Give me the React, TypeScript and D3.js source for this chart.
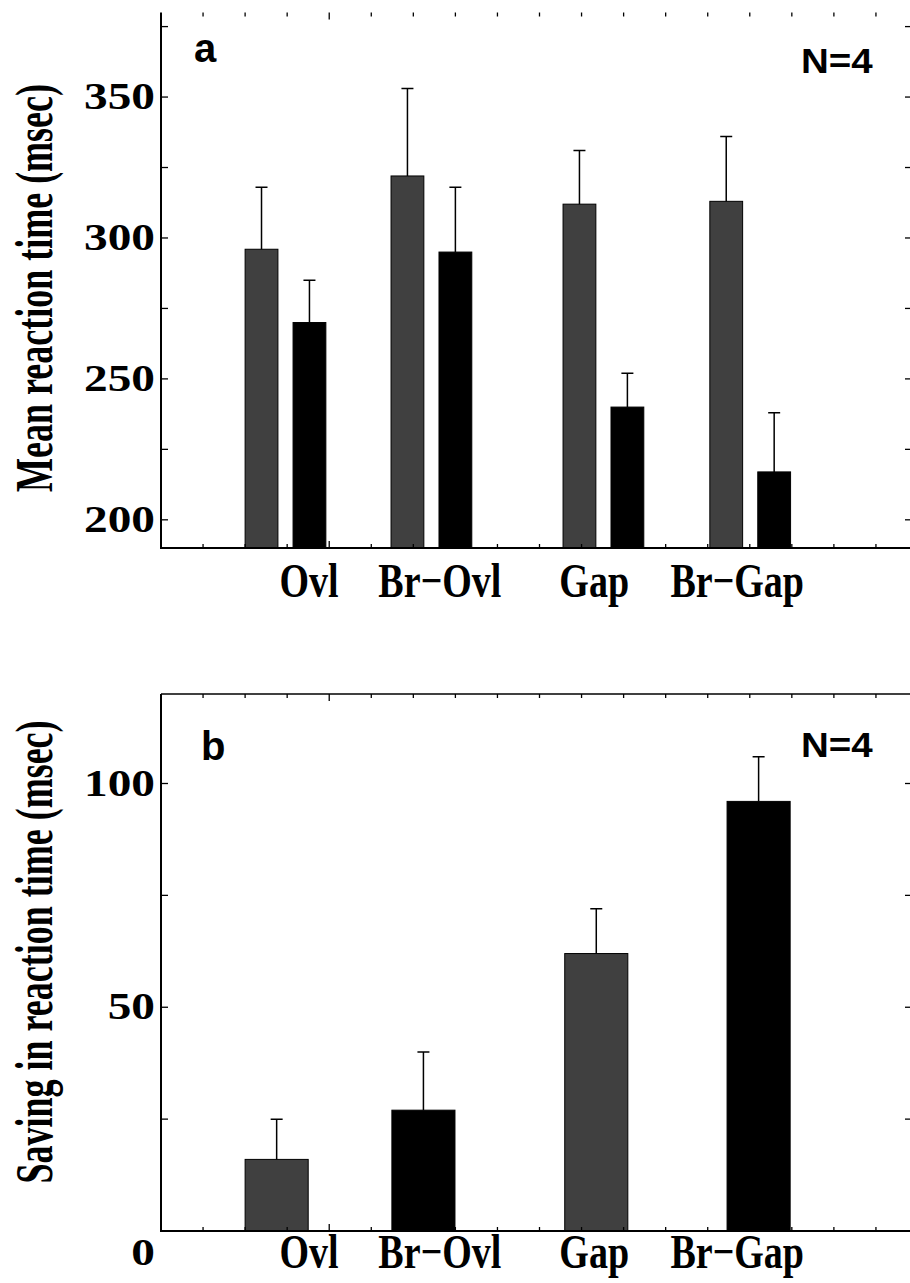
import React, { useEffect, useRef } from 'react';
import * as d3 from 'd3';

// conditions along the x axis
const categories = ['Ovl', 'Br\u2212Ovl', 'Gap', 'Br\u2212Gap'];

// panel a: mean reaction time (msec), grey = first bar, black = second bar
const rtGrey = [296, 322, 312, 313];
const rtGreyErr = [22, 31, 19, 23];
const rtBlack = [270, 295, 240, 217];
const rtBlackErr = [15, 23, 12, 21];

// panel b: saving in reaction time (msec)
const saving = [16, 27, 62, 96];
const savingErr = [9, 13, 10, 10];

// bar start positions in the original x units (axis runs 0..18)
const aGreyX = [2.0, 5.47, 9.56, 13.05];
const aBlackX = [3.14, 6.61, 10.7, 14.19];
const bBarX = [2.0, 5.49, 9.6, 13.46];
const labelX = [3.52, 6.63, 10.3, 13.7];

const rtTicks = [200, 250, 300, 350];
const savingTicks = [0, 50, 100];

const GREY = '#404040';
const BLACK = '#000000';

const W = 910, H = 1283;
const x = d3.scaleLinear().domain([0, 18]).range([161, 918]);
const xRight = 913;

function drawFrame(g: any, y: any, labels: number[], minor: number[], topLine: boolean) {
    const [y0, y1] = y.range();
    const x0 = x(0);

    // left + bottom axis lines
    g.append('line').attr('x1', x0).attr('x2', x0).attr('y1', y1).attr('y2', y0 + 1)
        .attr('stroke', '#000').attr('stroke-width', 2);
    g.append('line').attr('x1', x0 - 1).attr('x2', W).attr('y1', y0).attr('y2', y0)
        .attr('stroke', '#000').attr('stroke-width', 2.2);
    if (topLine) {
        g.append('line').attr('x1', x0).attr('x2', W).attr('y1', y1).attr('y2', y1)
            .attr('stroke', '#000').attr('stroke-width', 1.5);
    }

    // x ticks, top and bottom, pointing inwards
    const xt = d3.range(1, 18);
    g.selectAll('.xtb').data(xt).enter().append('line')
        .attr('x1', (d: number) => x(d)).attr('x2', (d: number) => x(d))
        .attr('y1', y0).attr('y2', (d: number) => y0 - (d === 4 ? 7 : 4))
        .attr('stroke', '#000').attr('stroke-width', 1.3);
    g.selectAll('.xtt').data(xt).enter().append('line')
        .attr('x1', (d: number) => x(d)).attr('x2', (d: number) => x(d))
        .attr('y1', y1).attr('y2', (d: number) => y1 + (d === 4 ? 7 : 4))
        .attr('stroke', '#000').attr('stroke-width', 1.3);

    // y ticks left and right
    g.selectAll('.ytl').data(minor).enter().append('line')
        .attr('x1', x0).attr('x2', x0 + 7)
        .attr('y1', (d: number) => y(d)).attr('y2', (d: number) => y(d))
        .attr('stroke', '#000').attr('stroke-width', 1.3);
    g.selectAll('.ytr').data(minor).enter().append('line')
        .attr('x1', xRight).attr('x2', xRight - 8)
        .attr('y1', (d: number) => y(d)).attr('y2', (d: number) => y(d))
        .attr('stroke', '#000').attr('stroke-width', 1.3);

    g.selectAll('.ylab').data(labels).enter().append('text')
        .attr('transform', (d: number) => `translate(155,${y(d) + 12 + (d === 0 ? 22 : 0)}) scale(1.28,1)`)
        .attr('text-anchor', 'end')
        .style('font-family', '"Liberation Serif", serif')
        .style('font-weight', 'bold')
        .style('font-size', '37px')
        .text((d: number) => d);
}

function drawBars(g: any, y: any, xs: number[], vals: number[], errs: number[], w: number, fill: string) {
    const base = y.range()[0];
    const bw = x(w) - x(0);
    g.selectAll(null).data(vals).enter().append('rect')
        .attr('x', (d: number, i: number) => x(xs[i]))
        .attr('y', (d: number) => y(d))
        .attr('width', bw)
        .attr('height', (d: number) => base - y(d))
        .attr('fill', fill)
        .attr('stroke', '#000').attr('stroke-width', 1);
    // error bars (upper only)
    g.selectAll(null).data(vals).enter().append('path')
        .attr('d', (d: number, i: number) => {
            const cx = x(xs[i]) + bw / 2;
            const top = y(d + errs[i]);
            return `M${cx},${y(d)}V${top}M${cx - 6},${top}H${cx + 6}`;
        })
        .attr('fill', 'none')
        .attr('stroke', '#000').attr('stroke-width', 1.5);
}

function drawCategories(g: any, yBase: number) {
    g.selectAll(null).data(categories).enter().append('text')
        .attr('transform', (d: string, i: number) => `translate(${x(labelX[i])},${yBase}) scale(1,1.3)`)
        .attr('text-anchor', 'middle')
        .style('font-family', '"Liberation Serif", serif')
        .style('font-weight', 'bold')
        .style('font-size', '38px')
        .text((d: string) => d);
}

function drawYTitle(g: any, cx: number, cy: number, txt: string) {
    g.append('text')
        .attr('transform', `translate(${cx},${cy}) rotate(-90) scale(1,1.45)`)
        .attr('text-anchor', 'middle')
        .style('font-family', '"Liberation Serif", serif')
        .style('font-weight', 'bold')
        .style('font-size', '36px')
        .text(txt);
}

function drawSans(g: any, px: number, py: number, txt: string, size: number, sx: number) {
    g.append('text')
        .attr('transform', `translate(${px},${py}) scale(${sx},1)`)
        .style('font-family', '"Liberation Sans", Arial, sans-serif')
        .style('font-weight', 'bold')
        .style('font-size', size + 'px')
        .text(txt);
}

export default function App() {
    const ref = useRef<SVGSVGElement>(null);

    useEffect(() => {
        const svg = d3.select(ref.current);
        svg.selectAll('*').remove();
        svg.append('rect').attr('width', W).attr('height', H).attr('fill', '#fff');

        // panel a
        const ya = d3.scaleLinear().domain([190, 380]).range([548, 12.5]);
        const ga = svg.append('g');
        drawBars(ga, ya, aGreyX, rtGrey, rtGreyErr, 0.78, GREY);
        drawBars(ga, ya, aBlackX, rtBlack, rtBlackErr, 0.78, BLACK);
        drawFrame(ga, ya, rtTicks, d3.range(200, 380, 25), false);
        drawCategories(ga, 597);
        drawYTitle(ga, 52, 288, 'Mean reaction time (msec)');
        drawSans(ga, 194, 62, 'a', 40, 1);
        drawSans(ga, 801, 73, 'N=4', 35, 1.1);

        // panel b
        const yb = d3.scaleLinear().domain([0, 120]).range([1231, 694]);
        const gb = svg.append('g');
        const fills = [GREY, BLACK, GREY, BLACK];
        categories.forEach((c, i) => {
            drawBars(gb, yb, [bBarX[i]], [saving[i]], [savingErr[i]], 1.5, fills[i]);
        });
        drawFrame(gb, yb, savingTicks, d3.range(0, 120, 25), true);
        drawCategories(gb, 1268);
        drawYTitle(gb, 52, 952, 'Saving in reaction time (msec)');
        drawSans(gb, 201, 760, 'b', 40, 1);
        drawSans(gb, 801, 757, 'N=4', 35, 1.1);
    }, []);

    return (
        <svg ref={ref} width={W} height={H}
            style={{ position: 'absolute', left: 0, top: 0, display: 'block' }} />
    );
}
